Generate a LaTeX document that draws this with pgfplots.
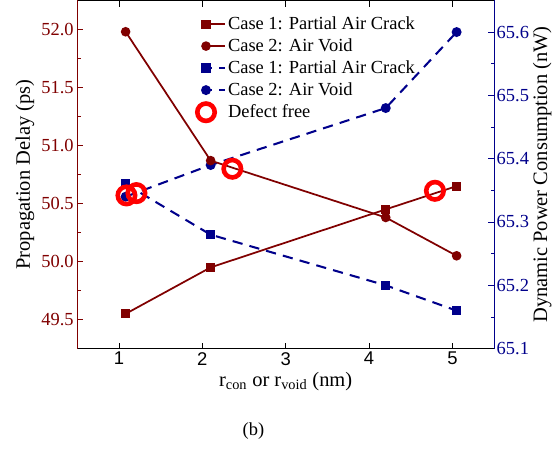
\documentclass[border=0pt]{standalone}
\usepackage{fontspec}
\setmainfont{Liberation Serif}
\newfontfamily\arial{Liberation Sans}
\usepackage{pgfplots}
\pgfplotsset{compat=1.18}
\definecolor{dred}{RGB}{128,0,0}
\definecolor{dblue}{RGB}{0,0,139}
\definecolor{dfred}{RGB}{255,0,0}

\pgfplotstableread{
x     c1d    c2d
1.08  49.55  51.98
2.10  49.95  50.87
4.20  50.45  50.38
5.05  50.65  50.05
}\delaytab
\pgfplotstableread{
x     c1p    c2p
1.08  65.36  65.34
2.10  65.28  65.39
4.20  65.20  65.48
5.05  65.16  65.60
}\powertab
\pgfplotstableread{
x     y
1.09  50.57
1.21  50.59
2.36  50.80
4.79  50.61
}\freetab

\begin{document}
\begin{tikzpicture}
\pgfplotsset{
  every axis/.append style={
    width=407pt, height=340pt, scale only axis,
    xmin=0.5, xmax=5.5,
    font=\fontsize{18}{21}\selectfont,
    label style={font=\fontsize{20}{24}\selectfont},
    /pgf/number format/assume math mode=true,
    tick align=inside,
    major tick length=6pt, minor tick length=3.5pt,
  },
}
% right axis: power
\begin{axis}[
  axis x line=none,
  axis y line*=right,
  ymin=65.1, ymax=65.65,
  ytick={65.1,65.2,...,65.6},
  minor y tick num=1,
  yticklabel style={color=dblue, xshift=-1pt, /pgf/number format/.cd, fixed, fixed zerofill, precision=1},
  y axis line style={color=dblue, line width=0.8pt},
  ytick style={color=dblue, line width=0.8pt},
  ylabel={Dynamic Power Consumption (nW)},
  ylabel style={yshift=3pt},
]
\addplot[dblue, line width=2pt, dash pattern=on 10pt off 7pt, mark=square*, mark size=3.6pt, mark options={solid}]
  table[x=x, y=c1p] {\powertab};
\addplot[dblue, line width=2pt, dash pattern=on 10pt off 7pt, mark=*, mark size=3.8pt, mark options={solid}]
  table[x=x, y=c2p] {\powertab};
\end{axis}
% left axis: delay
\begin{axis}[
  name=main,
  axis y line*=left,
  axis x line*=box,
  ymin=49.25, ymax=52.25,
  ytick={49.5,50.0,...,52.0},
  minor y tick num=1,
  xtick={1,2,3,4,5},
  xticklabel style={font=\arial\fontsize{18}{21}\selectfont},
  yticklabel style={color=dred, /pgf/number format/.cd, fixed, fixed zerofill, precision=1},
  y axis line style={color=dred, line width=0.8pt},
  x axis line style={color=black, line width=0.8pt},
  ytick style={color=dred, line width=0.8pt},
  xtick style={color=black, line width=0.8pt},
  xlabel={r\textsubscript{con} or r\textsubscript{void} (nm)},
  ylabel={Propagation Delay (ps)},
  legend style={draw=none, fill=none, at={(0.285,0.962)}, anchor=north west,
    font=\fontsize{18}{20}\selectfont, row sep=3.5pt, inner sep=1pt},
  legend cell align=left,
  legend image code/.code={\draw[mark repeat=3, mark phase=2, #1]
    plot coordinates {(0cm,0cm) (0.15cm,0cm) (0.8cm,0cm)};},
]
\addplot[dred, line width=1.7pt, mark=square*, mark size=3.6pt] table[x=x, y=c1d] {\delaytab};
\addlegendentry{Case 1: Partial Air Crack}
\addplot[dred, line width=1.7pt, mark=*, mark size=3.8pt] table[x=x, y=c2d] {\delaytab};
\addlegendentry{Case 2: Air Void}
\addlegendimage{dblue, line width=2pt, dash pattern=on 10pt off 7pt, mark=square*, mark size=3.6pt, mark options={solid}}
\addlegendentry{Case 1: Partial Air Crack}
\addlegendimage{dblue, line width=2pt, dash pattern=on 10pt off 7pt, mark=*, mark size=3.8pt, mark options={solid}}
\addlegendentry{Case 2: Air Void}
\addplot[only marks, mark=o, mark size=8.5pt, mark options={dfred, line width=4.5pt}] table[x=x, y=y] {\freetab};
\addlegendentry{Defect free}
\end{axis}
\node[anchor=north, font=\fontsize{18}{21}\selectfont] at ([yshift=-24pt]main.outer south) {(b)};
\path ([xshift=-12pt]main.outer west) ([yshift=-62pt]main.outer south);
\end{tikzpicture}
\end{document}
